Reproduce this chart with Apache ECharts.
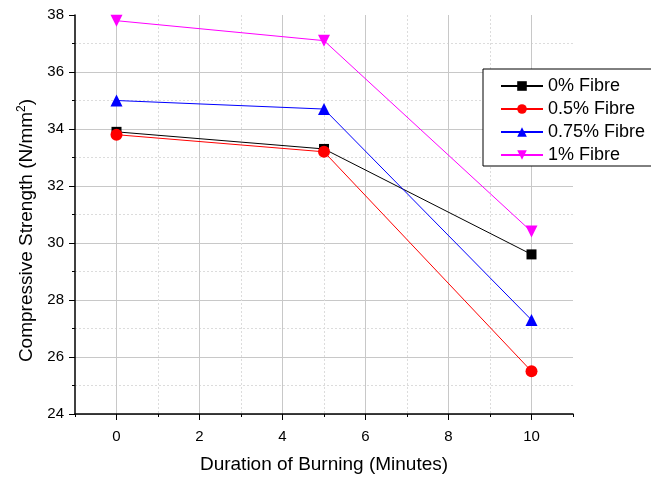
<!DOCTYPE html>
<html>
<head>
<meta charset="utf-8">
<script src="https://cdn.jsdelivr.net/npm/echarts@6/dist/echarts.min.js"></script>
<style>
  html, body { margin: 0; padding: 0; background: #fff; }
  #chart { width: 651px; height: 479px; }
</style>
</head>
<body>
<div id="chart"></div>
<script>
// burning time (minutes)
var minutes = [0, 5, 10];
var seriesNames = ['0% Fibre', '0.5% Fibre', '0.75% Fibre', '1% Fibre'];
var fibre0 = [33.9, 33.3, 29.6];
var fibre05 = [33.8, 33.2, 25.5];
var fibre075 = [35.0, 34.7, 27.3];
var fibre1 = [37.8, 37.1, 30.4];

var font = 'Liberation Sans, Arial, sans-serif';

function pairs(vals) {
    return minutes.map(function (m, i) { return [m, vals[i]]; });
}

function line(name, vals, color, symbol, rotate) {
    return {
        name: name,
        type: 'line',
        xAxisIndex: 0,
        yAxisIndex: 0,
        data: pairs(vals),
        symbol: symbol,
        symbolSize: symbol == 'rect' ? 10 : 12,
        symbolRotate: rotate || 0,
        lineStyle: { color: color, width: 1 },
        itemStyle: { color: color },
        z: 3
    };
}

var myChart = echarts.init(document.getElementById('chart'));
var option = {
    backgroundColor: '#fff',
    animation: false,
    textStyle: { fontFamily: font },
    grid: [
        { left: 75, right: 78, top: 15, bottom: 65 },
        // helper grid for the labelled even ticks (0..10)
        { left: 116.5, right: 119.5, top: 15, bottom: 65 }
    ],
    legend: {
        orient: 'vertical',
        left: 483,
        top: 69,
        data: seriesNames,
        itemWidth: 42,
        itemHeight: 12,
        itemGap: 5,
        padding: [8, 30, 2, 17],
        borderColor: '#000',
        borderWidth: 1,
        backgroundColor: '#fff',
        textStyle: { fontSize: 18, color: '#000', fontFamily: font }
    },
    xAxis: [
        {
            type: 'value',
            gridIndex: 0,
            min: -1,
            max: 11,
            interval: 1,
            axisLine: { show: true, onZero: false, lineStyle: { color: '#000', width: 1.5 } },
            axisTick: { show: true, inside: false, length: 3, lineStyle: { color: '#000' } },
            axisLabel: { show: false },
            splitLine: { show: true, showMinLine: false, showMaxLine: false, lineStyle: { color: '#dcdcdc', type: [2, 2], width: 1 } }
        },
        {
            type: 'value',
            gridIndex: 1,
            min: 0,
            max: 10,
            interval: 2,
            name: 'Duration of Burning (Minutes)',
            nameLocation: 'middle',
            nameGap: 41,
            nameTextStyle: { fontSize: 19, color: '#000', fontFamily: font },
            axisLine: { show: false, onZero: false },
            axisTick: { show: true, inside: false, length: 6, lineStyle: { color: '#000' } },
            axisLabel: { color: '#000', fontSize: 15, margin: 15, fontFamily: font },
            splitLine: { show: true, lineStyle: { color: '#c8c8c8', width: 1 } }
        }
    ],
    yAxis: [
        {
            type: 'value',
            gridIndex: 0,
            min: 24,
            max: 38,
            interval: 2,
            name: 'Compressive Strength (N/mm{sup|2})',
            nameLocation: 'middle',
            nameGap: 37,
            nameTextStyle: {
                fontSize: 19, color: '#000', fontFamily: font,
                padding: [0, 32, 0, 0],
                rich: {
                    sup: { fontSize: 12, color: '#000', fontFamily: font, padding: [0, 0, 10, 0] }
                }
            },
            axisLine: { show: true, onZero: false, lineStyle: { color: '#000', width: 1.5 } },
            axisTick: { show: true, inside: false, length: 6, lineStyle: { color: '#000' } },
            minorTick: { show: true, splitNumber: 2, length: 3, lineStyle: { color: '#000' } },
            axisLabel: { color: '#000', fontSize: 15, margin: 11, fontFamily: font },
            splitLine: { show: true, showMaxLine: false, lineStyle: { color: '#c8c8c8', width: 1 } },
            minorSplitLine: { show: true, lineStyle: { color: '#dcdcdc', type: [2, 2], width: 1 } }
        },
        {
            type: 'value',
            gridIndex: 1,
            min: 24,
            max: 38,
            show: false
        }
    ],
    series: [
        line(seriesNames[0], fibre0, '#000000', 'rect'),
        line(seriesNames[1], fibre05, '#ff0000', 'circle'),
        line(seriesNames[2], fibre075, '#0000ff', 'triangle'),
        line(seriesNames[3], fibre1, '#ff00ff', 'triangle', 180)
    ]
};
myChart.setOption(option);
</script>
</body>
</html>
